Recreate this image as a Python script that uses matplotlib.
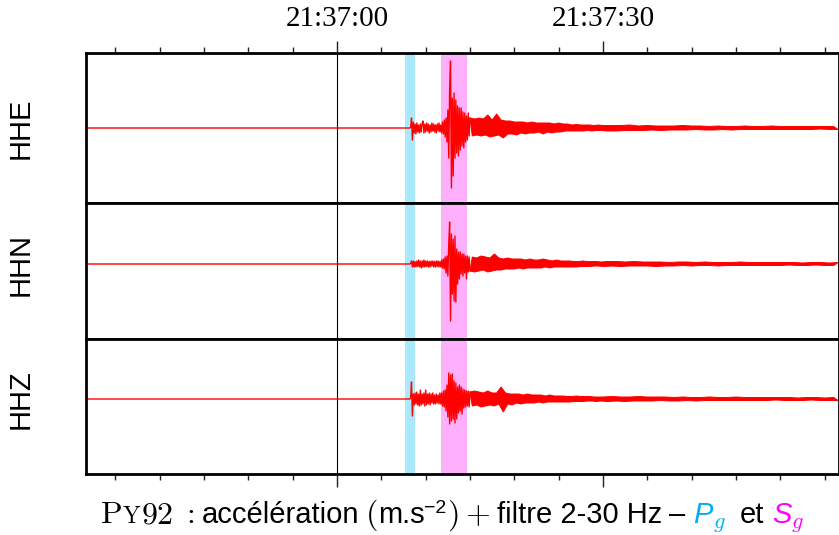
import matplotlib
matplotlib.use("Agg")
import matplotlib.pyplot as plt
import matplotlib.transforms as mtransforms
from matplotlib.ticker import MultipleLocator, FuncFormatter
import numpy as np

plt.rcParams['mathtext.fontset'] = 'cm'

# time axis in seconds after 21:37:00
T_START, T_END = -28.3, 56.6
T_ONSET = 8.2          # first sample of the dense part
T_CODA = 15.25         # coda part, sampled every 0.25 s
T_TAIL = 30.5          # tail part, sampled every 0.5 s

channels = ["HHE", "HHN", "HHZ"]
ylims = [(-75, 75), (-75, 61), (-75, 60)]

pg_window = (7.67, 8.8)
sg_window = (11.73, 14.7)

# amplitudes (arbitrary units), 8.2 -> 15.0 s every 0.1 s
hhe_dense = [0, 0.5, 10, -12, 6, -5, 4, -6, 5, -4,
             3, -5, 4, -4, 5, 7, -5, 4, -4, 5,
             -3, 4, -5, 3, -4, 5, -3, 4, -4, 3,
             -5, 4, -3, 5, -4, 3, -5, 6, -6, 8,
             -9, 10, -14, 18, -30, 40, 67, -60, 30, -48,
             35, -30, 28, -25, 22, -28, 20, -22, 20, -18,
             16, -20, 15, -14, 12, -12, 15, -8, 10]
hhn_dense = [0, 0.5, 3, -3, 3, -3, 2.5, -3, 3, -2.5,
             4, -3, 3, -4, 3, -3, 4, -3, 3, -2.5,
             3, -3, 2.5, -3, 3, -2, 3, -3, 2.5, -3,
             3, -2.5, 3, -3, 2.5, -3, 4, -4, 5, -5,
             7, -9, 8, -12, 20, 42, -57, 30, -30, 25,
             -37, 28, -38, 15, -20, 12, -15, 12, -10, 10,
             -12, 10, -9, 8, -15, 8, -8, 7, -7]
hhz_dense = [0, 1, 17, -17, 5, -6, 6, -5, 7, -6,
             5, -7, 9, -6, 5, -5, 6, -7, 9, -6,
             5, -5, 6, -6, 5, -4, 6, -5, 4, -5,
             5, -4, 4, -5, 6, -5, 6, -7, 8, -8,
             9, -12, 14, -18, 26, -25, 24, -22, 25, -20,
             18, -24, 16, -20, 12, -14, 14, -12, 12, -15,
             10, -9, 9, -8, 8, -7, 8, -8, 7]

# 15.25 -> 30.0 s every 0.25 s
hhe_coda = [-8, 9, -7, 10, -8, 9, -7, 13, -9, 8,
            -8, 14, -7, 8, -10, 7, -6, 7, -6, 6,
            -7, 6, -5, 6, -6, 5, -5, 6, -5, 5,
            -4, 5, -6, 5, -4, 5, -5, 4, -4, 5,
            -4, 4, -3, 4, -3, 3, -3, 3.5, -3, 3,
            -3, 3, -2.5, 3, -3, 2.5, -2.5, 3, -2.5, 2.5]
hhn_coda = [7, -8, 6, -7, 8, -6, 7, -8, 6, -7,
            10, -6, 6, -6, 5, -5, 6, -5, 5, -5,
            5, -4, 5, -5, 4, -4, 5, -4, 4, -4,
            4, -4, 5, -3, 4, -4, 3, -3, 4, -3,
            3, -3, 3, -3, 3, -3, 2.5, -3, 2.5, -2.5,
            3, -2.5, 2.5, -2.5, 2.5, -2, 2.5, -2, 2, -2.5]
hhz_coda = [-7, 8, -6, 7, -8, 6, -7, 8, -6, 6,
            -7, 6, -5, 12, -13, 6, -5, 5, -6, 5,
            -4, 5, -5, 4, -4, 5, -4, 4, -4, 4,
            -3, 4, -4, 3, -3, 4, -3, 3, -3, 3,
            -3, 3, -3, 2.5, -3, 2.5, -2.5, 3, -2.5, 2.5,
            -2.5, 2.5, -2, 2.5, -2, 2, -2.5, 2, -2, 2]

# 30.5 -> 56.5 s every 0.5 s
hhe_tail = [-3, 2.5, -3, 2.5, -2.5, 3, -2.5, 2, -2.5, 2.5,
            -2, 2, -2.5, 2, -2, 2, -2, 2.5, -2, 2,
            -1.5, 2, -2, 1.5, -2, 2, -1.5, 1.5, -2, 1.5,
            -1.5, 2, -1.5, 1.5, -1.5, 1.5, -1.5, 2, -1.5, 1.5,
            -1.5, 1.5, -1.5, 1.5, -1.5, 1.5, -1.5, 1.5, -1, 1.5,
            -1.5, 1.5, -1.5]
hhn_tail = [2.5, -2, 2.5, -2.5, 2, -2, 2.5, -2, 2, -2,
            2, -2.5, 2, -2, 1.5, -2, 2, -1.5, 2, -2,
            1.5, -1.5, 2, -1.5, 1.5, -2, 1.5, -1.5, 1.5, -1.5,
            2, -1.5, 1.5, -1.5, 1.5, -1.5, 1.5, -1.5, 1.5, -1.5,
            1.5, -1, 1.5, -1.5, 1, -1.5, 1.5, -1, 1.5, -1.5,
            1, -1.5, 1.5]
hhz_tail = [-2.5, 2.5, -2, 2, -2.5, 2, -2, 2.5, -2, 2,
            -2, 2, -1.5, 2, -2, 1.5, -2, 2, -1.5, 1.5,
            -2, 1.5, -1.5, 2, -1.5, 1.5, -1.5, 1.5, -1.5, 2,
            -1.5, 1.5, -1.5, 1.5, -1.5, 1.5, -1.5, 1.5, -1, 1.5,
            -1.5, 1.5, -1.5, 1, -1.5, 1.5, -1, 1.5, -1.5, 1,
            -1.5, 1.5, -1.5]

traces = [(hhe_dense, hhe_coda, hhe_tail),
          (hhn_dense, hhn_coda, hhn_tail),
          (hhz_dense, hhz_coda, hhz_tail)]


def draw_trace(ax, dense, coda, tail, color='red'):
    # quiet part + dense onset/S part drawn as a plain line
    t1 = np.concatenate([[T_START], T_ONSET + 0.1 * np.arange(len(dense))])
    a1 = np.concatenate([[0.0], dense])
    ax.plot(t1, a1, color=color, lw=1.0, zorder=2)
    # coda: too dense to resolve, drawn as the band between the read peaks
    t2 = np.concatenate([[t1[-1]],
                         T_CODA + 0.25 * np.arange(len(coda)),
                         T_TAIL + 0.5 * np.arange(len(tail))])
    a2 = np.concatenate([[a1[-1]], coda, tail])
    up = a2 >= 0
    lo = a2 <= 0
    xs = np.concatenate([t2[up], t2[lo][::-1]])
    ys = np.concatenate([a2[up], a2[lo][::-1]])
    ax.fill(xs, ys, facecolor=color, edgecolor=color, lw=0.7, zorder=2)


def hms(v, pos):
    s = int(round(21 * 3600 + 37 * 60 + v))
    return "%02d:%02d:%02d" % (s // 3600, (s // 60) % 60, s % 60)


W, H = 839, 535
fig = plt.figure(figsize=(W / 100, H / 100), dpi=100)

# panel boxes in pixels (top, bottom)
boxes = [(53, 203), (203, 339), (339, 474)]
left_px = 86

for i, (name, ylim, tr, (top, bot)) in enumerate(zip(channels, ylims, traces, boxes)):
    ax = fig.add_axes([left_px / W, (H - bot) / H, 1 - left_px / W, (bot - top) / H])
    ax.axvspan(*pg_window, color='#aae9fb', lw=0, zorder=0)
    ax.axvspan(*sg_window, color='#ffb0fc', lw=0, zorder=0)
    ax.axvline(0, color='black', lw=0.8, zorder=1)
    draw_trace(ax, *tr)
    ax.set_xlim(T_START, T_END)
    ax.set_ylim(*ylim)
    ax.set_yticks([])
    for sp in ax.spines.values():
        sp.set_linewidth(2)
        sp.set_color('black')
    ax.xaxis.set_major_locator(MultipleLocator(30))
    ax.xaxis.set_minor_locator(MultipleLocator(5))
    ax.xaxis.set_major_formatter(FuncFormatter(hms))
    ax.tick_params(axis='x', which='both', direction='out', color='#222222',
                   top=(i == 0), bottom=True, labeltop=(i == 0), labelbottom=False)
    ax.tick_params(axis='x', which='major', length=9, width=1, pad=6,
                   labelsize=21, labelfontfamily='Liberation Serif')
    ax.tick_params(axis='x', which='minor', length=4, width=1)
    tr_lab = mtransforms.blended_transform_factory(fig.transFigure, ax.transData)
    ax.text(21 / W, 0, name, transform=tr_lab, rotation=90, ha='center', va='center',
            fontsize=21, family='Liberation Sans')

# caption, laid out piece by piece
serif = dict(fontsize=23)
sans = dict(fontsize=21, family='Liberation Sans')
pieces = [(r"$\mathrm{P}$", serif), (r"$\mathrm{Y}$", dict(fontsize=17)),
          (r"$\mathrm{92}$", serif), 7, (r"$:$", serif), 7,
          ("accélération", sans), 6, (r"$($", serif), ("m.s", sans),
          ("−2", dict(fontsize=14, family='Liberation Sans', dy=10)), (r"$)$", serif), 7,
          (r"$+$", serif), 7, ("filtre 2-30 Hz", sans), 7, ("–", sans), 8,
          ("P", dict(fontsize=21, family='Liberation Sans', style='italic', color='#00aeef')),
          (r"$g$", dict(fontsize=16, color='#00aeef', dy=-5)), 14, ("et", sans), 8,
          ("S", dict(fontsize=21, family='Liberation Sans', style='italic', color='#ff00ff')),
          (r"$g$", dict(fontsize=16, color='#ff00ff', dy=-5))]

fig.canvas.draw()
rend = fig.canvas.get_renderer()
arts = []
x = 0.0
base_y = (H - 523) / H
for p in pieces:
    if not isinstance(p, tuple):
        x += p
        continue
    s, kw = p
    kw = dict(kw)
    dy = kw.pop('dy', 0)
    txt = fig.text(x / W, base_y + dy / H, s, ha='left', va='baseline', **kw)
    arts.append(txt)
    x += txt.get_window_extent(rend).width
shift = 452 - x / 2
for txt in arts:
    px, py = txt.get_position()
    txt.set_position((px + shift / W, py))

fig.savefig("out.png", dpi=100)
